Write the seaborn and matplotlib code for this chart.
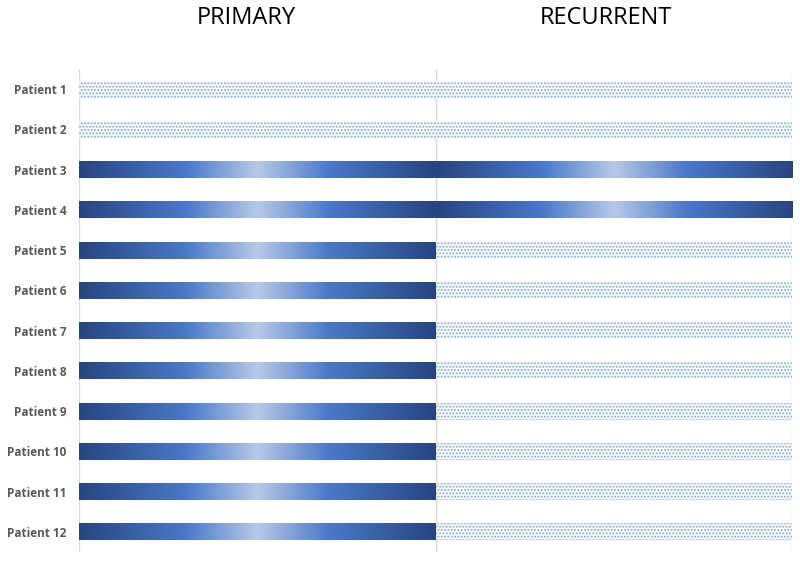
import numpy as np
import pandas as pd
import matplotlib
matplotlib.use("Agg")
import matplotlib.pyplot as plt
from matplotlib.colors import LinearSegmentedColormap
import seaborn as sns

patients = [f"Patient {i}" for i in range(1, 13)]
primary_values = [1] * 12
recurrent_values = [1] * 12
# fill style per segment: "dots" or "gradient"
primary_style = ["dots", "dots"] + ["gradient"] * 10
recurrent_style = ["dots", "dots", "gradient", "gradient"] + ["dots"] * 8
panel_titles = ["PRIMARY", "RECURRENT"]

sns.set_theme(style="white")
plt.rcParams["font.family"] = ["Open Sans", "DejaVu Sans"]
plt.rcParams["hatch.linewidth"] = 1.0

df = pd.DataFrame({
    "patient": patients,
    "primary": primary_values,
    "recurrent": recurrent_values,
})
df["cum_recurrent"] = df["primary"] + df["recurrent"]

fig = plt.figure(figsize=(8.0, 5.61), dpi=100)
ax = fig.add_axes([79 / 800, 1 - 552 / 561, (792 - 79) / 800, (552 - 69) / 561])

bar_w = 0.42
sns.barplot(data=df, x="cum_recurrent", y="patient", orient="h", width=bar_w,
            color="white", ax=ax, zorder=1)
sns.barplot(data=df, x="primary", y="patient", orient="h", width=bar_w,
            color="white", ax=ax, zorder=1.2)

cmap = LinearSegmentedColormap.from_list(
    "bluegrad",
    [(0.0, "#274580"), (0.3, "#4A79CA"), (0.5, "#B7C9E8"),
     (0.7, "#4A79CA"), (1.0, "#274580")])
grad = np.linspace(0, 1, 256).reshape(1, -1)

n = len(patients)
rec_patches = ax.patches[:n]
pri_patches = ax.patches[n:2 * n]

dot_color = "#7FA9DC"

def style_patch(p, style, x0, x1, z):
    if style == "dots":
        p.set_facecolor("white")
        p.set_edgecolor(dot_color)
        p.set_hatch(".....")
        p.set_linewidth(0)
    else:
        p.set_facecolor("none")
        p.set_linewidth(0)
        y0 = p.get_y()
        y1 = y0 + p.get_height()
        im = ax.imshow(grad, cmap=cmap, aspect="auto",
                       extent=[x0, x1, y1, y0], zorder=z,
                       interpolation="bicubic")
        im.set_clip_path(p)

for i in range(n):
    style_patch(rec_patches[i], recurrent_style[i],
                df["primary"][i], df["cum_recurrent"][i], 1.1)
    style_patch(pri_patches[i], primary_style[i], 0, df["primary"][i], 1.3)

ax.set_xlim(0, 2)
ax.set_ylim(n - 0.5, -0.5)
for xv in [0, 1, 2]:
    ax.axvline(xv, color="#D9D9D9", lw=1.0, zorder=0.5)

for s in ax.spines.values():
    s.set_visible(False)
ax.set_xticks([])
ax.set_xlabel("")
ax.set_ylabel("")
ax.tick_params(axis="y", length=0, pad=9)
for lab in ax.get_yticklabels():
    lab.set_fontweight("bold")
    lab.set_fontsize(8.5)
    lab.set_color("#595959")

fig.text(246 / 800, 1 - 18 / 561, panel_titles[0], ha="center", va="center",
         fontsize=17, color="black")
fig.text(606 / 800, 1 - 18 / 561, panel_titles[1], ha="center", va="center",
         fontsize=17, color="black")

fig.savefig("out.png", dpi=100, facecolor="white")
